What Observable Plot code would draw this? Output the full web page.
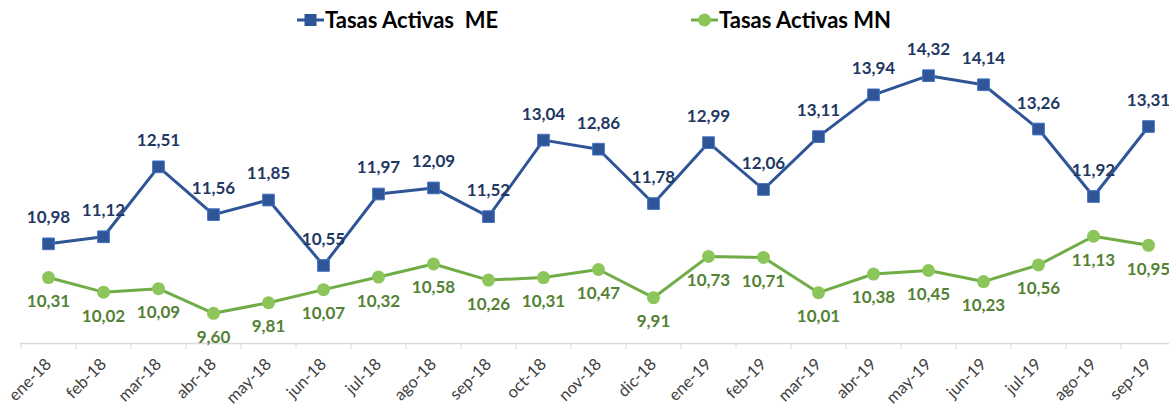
<!DOCTYPE html>
<html>
<head>
<meta charset="utf-8">
<script src="https://cdn.jsdelivr.net/npm/d3@7"></script>
<script src="https://cdn.jsdelivr.net/npm/@observablehq/plot@0.6"></script>
<style>
  html, body { margin: 0; padding: 0; background: #fff; overflow: hidden; }
  #wrap { width: 1169px; font-family: Lato, "Open Sans", sans-serif; }
  #legend { position: relative; height: 36px; font-weight: bold; font-size: 22px; color: #000; }
  .item { position: absolute; top: 6px; display: flex; align-items: center; }
  .item svg { margin-right: 1px; }
</style>
</head>
<body>
<div id="wrap">
  <div id="legend"></div>
  <div id="chart"></div>
</div>
<script>
const months = ["ene-18","feb-18","mar-18","abr-18","may-18","jun-18","jul-18","ago-18","sep-18","oct-18","nov-18","dic-18",
                "ene-19","feb-19","mar-19","abr-19","may-19","jun-19","jul-19","ago-19","sep-19"];
const tasasME = [10.98, 11.12, 12.51, 11.56, 11.85, 10.55, 11.97, 12.09, 11.52, 13.04, 12.86, 11.78,
                 12.99, 12.06, 13.11, 13.94, 14.32, 14.14, 13.26, 11.92, 13.31];
const tasasMN = [10.31, 10.02, 10.09, 9.60, 9.81, 10.07, 10.32, 10.58, 10.26, 10.31, 10.47, 9.91,
                 10.73, 10.71, 10.01, 10.38, 10.45, 10.23, 10.56, 11.13, 10.95];
const seriesNames = ["Tasas Activas  ME", "Tasas Activas MN"];

const me = months.map((m, i) => ({month: m, value: tasasME[i]}));
const mn = months.map((m, i) => ({month: m, value: tasasMN[i]}));
const fmt = v => v.toFixed(2).replace(".", ",");

const blue = "#2F5597", blueLabel = "#1F3864";
const green = "#70AD47", greenDot = "#8CC65A", greenLabel = "#548235";

// legend
const legend = document.getElementById("legend");
legend.innerHTML = `
  <div class="item" style="left:297px">
    <svg width="27" height="14"><line x1="0" y1="7" x2="27" y2="7" stroke="${blue}" stroke-width="3"/><rect x="7.5" y="1" width="12" height="12" fill="${blue}"/></svg>
    <span style="white-space:pre">${seriesNames[0]}</span></div>
  <div class="item" style="left:691px">
    <svg width="27" height="14"><line x1="0" y1="7" x2="27" y2="7" stroke="${green}" stroke-width="3"/><circle cx="13.5" cy="7" r="6.5" fill="${greenDot}"/></svg>
    <span>${seriesNames[1]}</span></div>`;

const chart = Plot.plot({
  width: 1169,
  height: 372,
  marginLeft: 20,
  marginRight: 0,
  marginTop: 10,
  marginBottom: 65,
  style: {fontFamily: "Lato, 'Open Sans', sans-serif", background: "#fff"},
  x: {type: "point", domain: months, range: [20, 1175], padding: 0.5, label: null},
  y: {domain: [9, 14.9], axis: null},
  marks: [
    Plot.ruleY([9], {stroke: "#d9d9d9", strokeWidth: 1.5}),
    Plot.axisX({tickSize: 6, tickFormat: () => "", stroke: "#d9d9d9", dx: -27.5}),
    Plot.axisX({tickSize: 0, tickRotate: -45, tickPadding: 18, fontSize: 16.5, fill: "#404040", label: null}),
    Plot.line(me, {x: "month", y: "value", stroke: blue, strokeWidth: 3}),
    Plot.dot(me, {x: "month", y: "value", symbol: "square", r: 6.6, fill: blue, stroke: "#4472C4", strokeWidth: 1}),
    Plot.line(mn, {x: "month", y: "value", stroke: green, strokeWidth: 3}),
    Plot.dot(mn, {x: "month", y: "value", r: 6.5, fill: greenDot}),
    Plot.text(me, {x: "month", y: "value", text: d => fmt(d.value), dy: -26, fill: blueLabel, fontSize: 17, fontWeight: "bold"}),
    Plot.text(mn, {x: "month", y: "value", text: d => fmt(d.value), dy: 24, fill: greenLabel, fontSize: 17, fontWeight: "bold"})
  ]
});
document.getElementById("chart").appendChild(chart);
</script>
</body>
</html>
